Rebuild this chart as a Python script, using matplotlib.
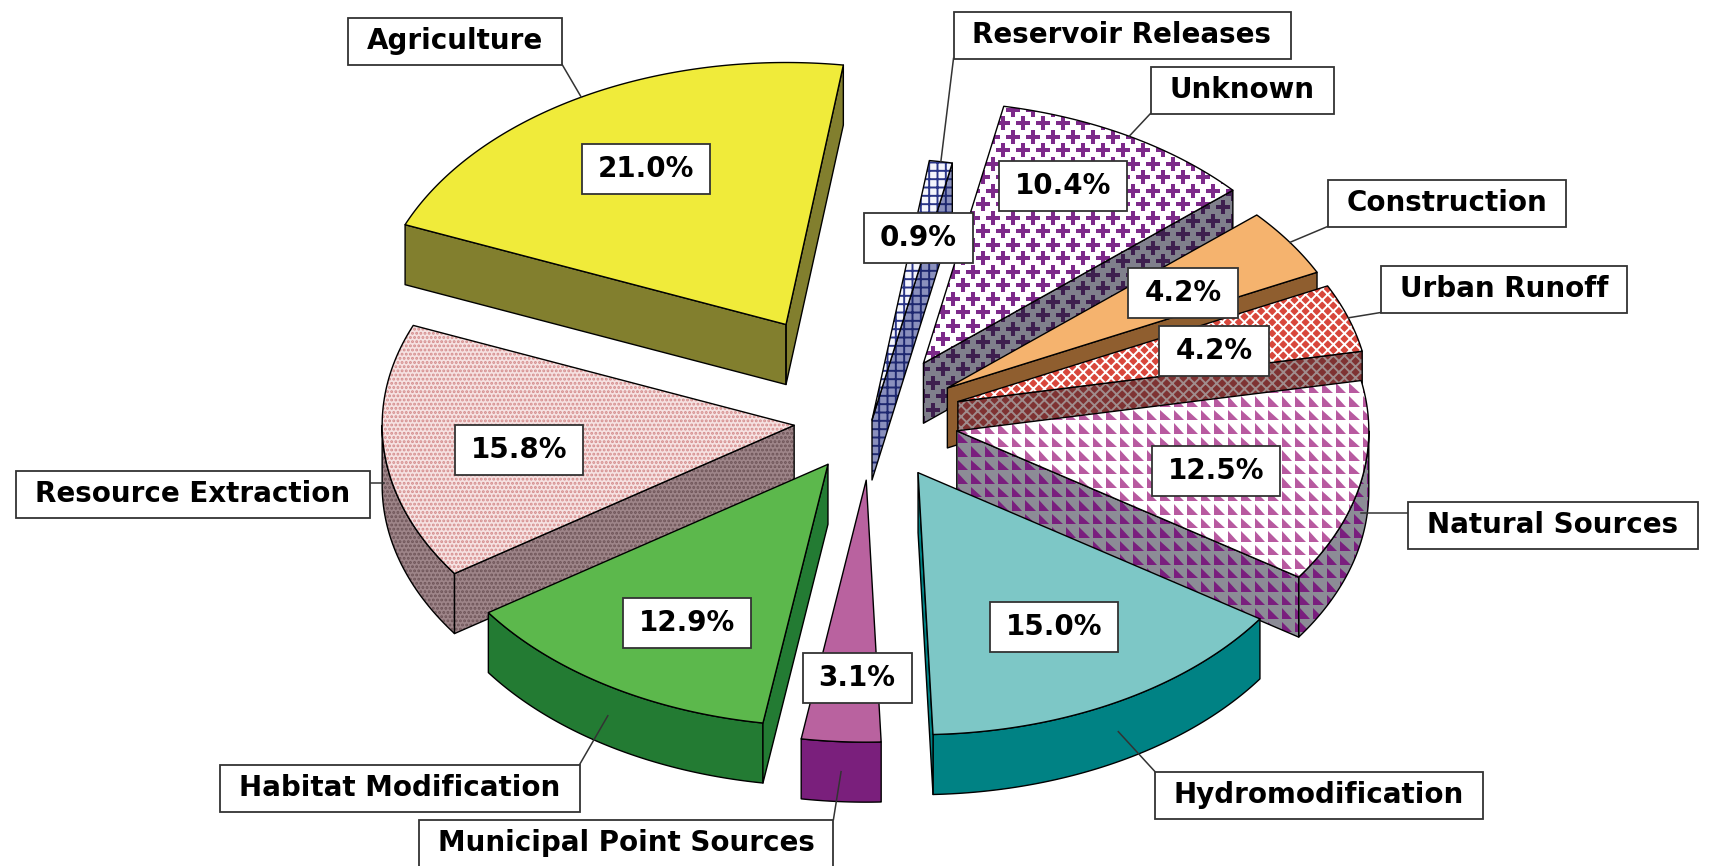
import numpy as np
import matplotlib.pyplot as plt
from matplotlib.patches import Polygon, Rectangle
from matplotlib.collections import PolyCollection

plt.rcParams["hatch.linewidth"] = 1.4

# data: clockwise from 12 o'clock
categories = ["Reservoir Releases", "Unknown", "Construction", "Urban Runoff",
              "Natural Sources", "Hydromodification", "Municipal Point Sources",
              "Habitat Modification", "Resource Extraction", "Agriculture"]
shares = [0.9, 10.4, 4.2, 4.2, 12.5, 15.0, 3.1, 12.9, 15.8, 21.0]
pct_labels = [f"{v:.1f}%" for v in shares]

# styling
explode = [0.0, 0.25, 0.22, 0.22, 0.21, 0.23, 0.23, 0.20, 0.19, 0.42]
top_colors = ["#f4f5fc", "#ffffff", "#f5b36e", "#d8473c", "#ffffff",
              "#7dc7c6", "#b9629f", "#5cb84c", "#f6e2e2", "#f0eb3a"]
side_colors = ["#8a90bd", "#80808c", "#8f5e2f", "#7e3232", "#8c8c96",
               "#008284", "#7a1f7c", "#237b33", "#9e8589", "#827f2e"]
# (kind, pattern, colour on top, colour on side)
textures = [("hatch", "++", "#2a3587", "#1e2870"),
            ("plus", None, "#7d2a8a", "#3e1f4f"),
            None,
            ("hatch", "xxx", "#ffffff", "#a08c8c"),
            ("tri", None, "#b85aa0", "#7a1e7e"),
            None, None, None,
            ("hatch", "....", "#d48c8c", "#6e5458"),
            None]

# layout (pixel space of the 1709x866 canvas)
pct_pos = [(918, 238), (1063, 186), (1183, 293), (1214, 351), (1216, 471),
           (1054, 627), (857, 678), (687, 623), (519, 450), (646, 169)]
cat_pos = [(1122, 35), (1242, 90), (1447, 203), (1504, 289), (1553, 525),
           (1319, 795), (626, 843), (400, 788), (193, 494), (455, 41)]

CX, CY = 872, 420
RX, RY = 412, 262
DEPTH = 60
START = 8.0

fig = plt.figure(figsize=(17.09, 8.66), dpi=100)
ax = fig.add_axes([0, 0, 1, 1])
ax.set_xlim(0, 1709)
ax.set_ylim(866, 0)
ax.axis("off")


def rim(cx, cy, th):
    t = np.radians(th)
    return cx + RX * np.sin(t), cy - RY * np.cos(t)


def arc(cx, cy, a, b, n=120):
    th = np.linspace(a, b, n)
    x, y = rim(cx, cy, th)
    return np.column_stack([x, y])


def texture(patch, pts, kind, pattern, col, z):
    if kind == "hatch":
        p = Polygon(pts, closed=True, facecolor="none", edgecolor=col,
                    linewidth=0, hatch=pattern, zorder=z)
        ax.add_patch(p)
        p.set_clip_path(patch)
        return
    x0, y0 = pts.min(axis=0)
    x1, y1 = pts.max(axis=0)
    if kind == "plus":
        xs, ys = [], []
        for j, yy in enumerate(np.arange(y0 - 10, y1 + 10, 13.5)):
            off = 10 if j % 2 else 0
            for xx in np.arange(x0 - 20 + off, x1 + 20, 20):
                xs.append(xx)
                ys.append(yy)
        sc = ax.scatter(xs, ys, s=105, marker="P", color=col, linewidths=0, zorder=z)
        sc.set_clip_path(patch)
    elif kind == "tri":
        s, g = 13.5, 1.0
        tris = []
        for yy in np.arange(y0 - s, y1 + s, s):
            for xx in np.arange(x0 - s, x1 + s, s):
                tris.append([(xx + g, yy + 2 * g), (xx + g, yy + s - g),
                             (xx + s - 2 * g, yy + s - g)])
        pc = PolyCollection(tris, facecolors=col, edgecolors="none", zorder=z)
        ax.add_collection(pc)
        pc.set_clip_path(patch)


def face(pts, fc, tex, side, z):
    base = Polygon(pts, closed=True, facecolor=fc, edgecolor="none", zorder=z)
    ax.add_patch(base)
    if tex is not None:
        kind, pattern, ctop, cside = tex
        texture(base, pts, kind, pattern, cside if side else ctop, z + 0.01)
    ax.add_patch(Polygon(pts, closed=True, fill=False, edgecolor="black",
                         linewidth=1.0, joinstyle="round", zorder=z + 0.02))


cum = np.concatenate([[0], np.cumsum(shares)])
slices = []
for i, v in enumerate(shares):
    a = START + 3.6 * cum[i]
    b = a + 3.6 * v
    mid = (a + b) / 2
    ox, oy = rim(CX, CY, mid)
    apex = (CX + explode[i] * (ox - CX), CY + explode[i] * (oy - CY))
    slices.append((i, a, b, mid, apex))

# far slices first
order = sorted(slices, key=lambda s: -np.cos(np.radians(s[3])))
anchors = {}
for k, (i, a, b, mid, (px, py)) in enumerate(order):
    z = 2 + k * 0.1
    d = np.array([0, DEPTH])
    top = np.vstack([[px, py], arc(px, py, a, b)])
    lo, hi = max(a, 90), min(b, 270)
    if hi > lo:
        up = arc(px, py, lo, hi)
        face(np.vstack([up, (up + d)[::-1]]), side_colors[i], textures[i], True, z)
    for ang, vis in ((a, np.sin(np.radians(a)) < 0), (b, np.sin(np.radians(b)) > 0)):
        if vis:
            rx, ry = rim(px, py, ang)
            wall = np.array([[px, py], [rx, ry], [rx, ry + DEPTH], [px, py + DEPTH]])
            face(wall, side_colors[i], textures[i], True, z + 0.03)
    face(top, top_colors[i], textures[i], False, z + 0.06)
    ax_, ay_ = rim(px, py, mid)
    if np.cos(np.radians(mid)) < 0:
        ay_ += DEPTH / 2
    anchors[i] = (ax_, ay_)

font = dict(family="DejaVu Sans", fontweight="bold", fontsize=20)
pct_texts = [ax.text(x, y, t, ha="center", va="center", zorder=30, **font)
             for t, (x, y) in zip(pct_labels, pct_pos)]
cat_texts = [ax.text(x, y, t, ha="center", va="center", zorder=30, **font)
             for t, (x, y) in zip(categories, cat_pos)]

fig.canvas.draw()
renderer = fig.canvas.get_renderer()
inv = ax.transData.inverted()


def box(t, padx, h):
    bb = t.get_window_extent(renderer)
    (x0, y0), (x1, y1) = inv.transform([[bb.x0, bb.y0], [bb.x1, bb.y1]])
    xa, xb = min(x0, x1) - padx, max(x0, x1) + padx
    ym = (y0 + y1) / 2
    ax.add_patch(Rectangle((xa, ym - h / 2), xb - xa, h, facecolor="white",
                           edgecolor="#333333", linewidth=1.3, zorder=29))
    return xa, xb, ym - h / 2, ym + h / 2


for t in pct_texts:
    box(t, 16, 50)

for i, t in enumerate(cat_texts):
    xa, xb, ya, yb = box(t, 19, 47)
    ax_, ay_ = anchors[i]
    nx, ny = np.clip(ax_, xa, xb), np.clip(ay_, ya, yb)
    ax.plot([ax_, nx], [ay_, ny], color="#333333", linewidth=1.1, zorder=28)

fig.savefig("out.png", dpi=100)
